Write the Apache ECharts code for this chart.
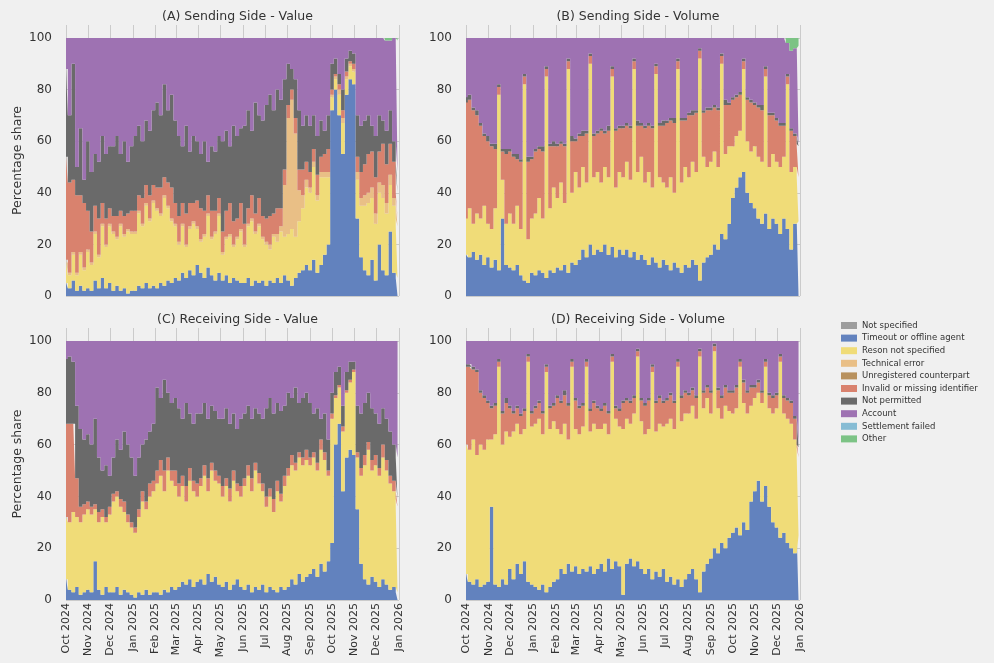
<!DOCTYPE html>
<html>
<head>
<meta charset="utf-8">
<script src="https://cdn.jsdelivr.net/npm/echarts@6/dist/echarts.min.js"></script>
<style>
html, body { margin: 0; padding: 0; background: #f0f0f0; }
#container { width: 994px; height: 663px; }
</style>
</head>
<body>
<div id="container"></div>
<script>
let chart = echarts.init(document.getElementById('container'));
const fontFamily = 'DejaVu Sans';

// one sample every 5 days from 1 Oct 2024 (92 samples, last is 30 Dec 2025)
const startDay = [2024, 9, 1];
const stepDays = 5;
const monthNames = ['Jan', 'Feb', 'Mar', 'Apr', 'May', 'Jun', 'Jul', 'Aug', 'Sep', 'Oct', 'Nov', 'Dec'];
const tickDates = ['2024-10-01', '2024-11-01', '2024-12-01', '2025-01-01', '2025-02-01', '2025-03-01',
    '2025-04-01', '2025-05-01', '2025-06-01', '2025-07-01', '2025-08-01', '2025-09-01', '2025-10-01',
    '2025-11-01', '2025-12-01', '2026-01-01'];
const yTicks = [0, 20, 40, 60, 80, 100];
const legendNames = ['Not specified', 'Timeout or offline agent', 'Reson not specified', 'Technical error',
    'Unregistered counterpart', 'Invalid or missing identifier', 'Not permitted', 'Account',
    'Settlement failed', 'Other'];
const colors = {
    'Not specified': '#9d9d9d',
    'Timeout or offline agent': '#6282be',
    'Reson not specified': '#f0dc78',
    'Technical error': '#e9bf86',
    'Unregistered counterpart': '#b8915e',
    'Invalid or missing identifier': '#d9826e',
    'Not permitted': '#6a6a6a',
    'Account': '#9e72b2',
    'Settlement failed': '#86bcd4',
    'Other': '#7cc385'
};

// (A) Sending side - value
const timeoutA = [
5,3,6,2,4,2,3, 2,6,3,7,3,5, 2,4,2,3,1,2, 2,4,3,5,3,4, 3,5,4,6,5,7, 6,9,7,10,8,12,
9,7,11,8,6,9, 6,8,5,7,6,5, 5,7,4,6,5,6, 4,6,5,7,5,8, 6,4,7,9,10,12, 10,14,9,12,16,20,
72,80,70,55,78,84, 82,30,15,10,8,14, 6,20,10,8,25,9,7];
const reasonA = [
8,5,10,6,12,8,14, 10,18,12,20,16,22, 22,18,25,20,24,22, 22,28,24,30,26,32, 30,26,34,28,24,20, 14,18,12,16,20,14,
12,16,20,14,18,22, 10,14,18,12,16,20, 14,20,25,18,22,16, 16,12,18,14,20,15, 18,22,16,20,24,30, 30,36,28,34,30,26,
5,4,8,12,6,5, 5,15,20,25,28,24, 22,20,28,24,18,26,20];
const techA = [
1,1,1,1,1,1,1, 1,1,1,1,1,1, 1,1,1,1,1,1, 1,1,1,1,1,1, 1,1,1,1,1,1, 1,1,1,1,1,1,
1,1,1,1,1,1, 1,1,1,1,1,1, 1,1,1,1,1,1, 1,2,1,3,2,20, 45,50,40,12,5,3, 2,2,2,2,2,2,
1,1,2,2,1,1, 1,3,3,4,4,4, 4,4,5,4,4,3,3];
const invalidA = [
40,35,28,30,22,25,15, 12,10,14,8,10,6, 6,8,5,7,6,8, 8,6,10,7,9,6, 8,10,7,9,12,8, 10,8,12,9,7,10,
12,9,7,10,8,6, 8,10,12,9,7,10, 8,6,9,7,10,8, 9,11,8,10,7,6, 5,4,6,8,10,7, 6,5,8,6,7,9,
2,1,2,3,2,1, 2,6,10,12,15,14, 14,12,16,15,12,14,10];
const notPermittedA = [
34,26,45,11,26,9,27, 23,20,22,26,25,24, 27,31,22,29,20,25, 29,27,22,25,25,29, 33,28,36,28,36,32, 31,22,34,20,26,23,
21,27,13,25,23,24, 35,31,22,37,32,29, 38,38,25,43,32,37, 44,47,40,46,42,35, 16,8,15,23,17,18, 18,13,15,14,9,13,
10,6,4,8,5,4, 4,16,18,17,15,10, 16,14,9,13,13,8,8];
const otherA = [
0,0,0,0,0,0,0, 0,0,0,0,0,0, 0,0,0,0,0,0, 0,0,0,0,0,0, 0,0,0,0,0,0, 0,0,0,0,0,0,
0,0,0,0,0,0, 0,0,0,0,0,0, 0,0,0,0,0,0, 0,0,0,0,0,0, 0,0,0,0,0,0, 0,0,0,0,0,0,
0,0,0,0,0,0, 0,0,0,0,0,0, 0,0,0,1,1,0,1];

// (B) Sending side - volume
const timeoutB = [
16,15,17,14,16,12,15, 11,14,10,30,12,11, 10,12,8,6,5,9, 8,10,9,7,10,9, 11,10,12,9,13,12, 14,18,15,20,16,18,
17,20,16,19,15,18, 16,18,15,17,14,16, 14,12,15,13,11,14, 12,10,13,11,9,12, 11,14,12,6,13,15, 16,20,18,24,22,28,
38,42,46,48,40,36, 34,30,28,32,26,30, 28,24,30,26,18,28,29];
const reasonB = [
14,19,11,18,14,23,13, 15,20,68,15,16,21, 18,23,18,76,17,21, 24,28,21,78,24,33, 27,34,24,79,27,36, 28,32,29,70,30,30,
27,30,30,66,27,30, 30,34,30,71,34,38, 30,36,27,73,35,30, 30,36,27,77,35,38, 35,38,36,86,41,35, 36,36,32,66,33,30,
20,20,18,40,20,20, 24,24,24,53,24,25, 24,26,24,56,30,22,17];
const invalidB = [
45,42,44,38,36,27,32, 32,23,3,11,27,24, 26,18,26,3,30,23, 24,19,26,3,24,16, 20,15,22,3,20,12, 20,12,19,3,16,15,
20,13,18,3,22,17, 19,14,20,3,18,12, 21,18,23,3,20,22, 25,22,27,3,24,18, 24,18,23,3,17,22, 20,17,22,3,19,16,
18,15,14,3,16,19, 16,19,20,3,20,15, 16,16,12,3,16,12,12];
const notPermittedB = [
2,2,1,2,1,1,2, 1,2,1,1,2,1, 1,2,1,1,2,1, 1,1,2,1,1,2, 1,1,1,1,2,1, 1,2,1,1,1,1,
1,1,2,1,1,1, 1,1,1,1,2,1, 1,1,1,1,1,2, 1,1,2,1,1,1, 1,2,1,1,1,1, 1,1,1,1,2,1,
1,1,1,1,1,1, 1,1,2,1,1,1, 1,1,1,1,1,1,1];
const otherB = [
0,0,0,0,0,0,0, 0,0,0,0,0,0, 0,0,0,0,0,0, 0,0,0,0,0,0, 0,0,0,0,0,0, 0,0,0,0,0,0,
0,0,0,0,0,0, 0,0,0,0,0,0, 0,0,0,0,0,0, 0,0,0,0,0,0, 0,0,0,0,0,0, 0,0,0,0,0,0,
0,0,0,0,0,0, 0,0,0,0,0,0, 0,0,0,2,5,4,3];

// (C) Receiving side - value
const timeoutC = [
8,4,3,5,2,3,4, 3,15,4,2,5,3, 3,5,2,4,3,2, 1,3,2,4,2,3, 3,2,4,3,5,4, 5,7,6,8,5,7,
8,6,10,7,9,6, 5,7,4,6,8,5, 4,6,3,5,4,6, 3,5,4,3,5,4, 5,8,6,10,7,9, 10,12,9,14,11,15,
22,60,68,42,55,58, 56,35,14,8,6,9, 7,5,8,6,4,5,3];
const reasonC = [
24,26,31,27,28,30,31, 30,20,26,30,25,30, 35,35,34,30,27,26, 25,29,36,31,38,39, 42,46,38,47,41,40, 35,37,32,38,37,33,
36,42,32,43,37,39, 35,37,34,40,34,35, 40,42,39,45,41,36, 33,35,30,39,33,40, 43,44,44,45,45,45, 42,43,41,44,43,33,
48,18,14,23,25,26, 32,20,34,44,52,41, 45,43,47,44,41,37,33];
const invalidC = [
36,38,34,15,6,4,3, 3,2,4,3,2,3, 3,2,3,4,3,2, 2,3,4,3,5,4, 5,6,8,5,4,6, 5,4,6,5,4,5,
3,4,5,3,4,3, 4,3,5,4,3,4, 3,4,5,3,4,3, 4,3,5,4,3,4, 3,4,3,2,3,4, 3,2,3,4,3,2,
2,1,1,2,1,1, 1,2,3,4,3,4, 4,3,5,4,3,4,3];
const notPermittedC = [
25,26,24,28,30,25,26, 24,33,21,15,20,12, 14,20,19,27,27,25, 20,20,18,24,20,22, 32,24,35,25,26,28, 29,22,32,21,22,27,
25,24,23,22,23,22, 26,27,25,22,21,26, 25,23,23,21,23,25, 34,35,33,30,32,27, 29,22,29,19,23,22, 21,15,21,8,15,12,
8,9,7,8,7,7, 3,18,21,20,19,20, 16,17,14,16,17,14,16];

// (D) Receiving side - volume
const timeoutD = [
10,7,6,8,5,6,7, 36,6,5,8,6,12, 8,14,10,15,7,6, 5,4,6,3,5,7, 8,12,10,14,11,13, 10,12,11,13,10,12,
14,11,16,12,15,13, 2,14,16,13,15,12, 10,12,8,11,9,12, 7,9,6,8,5,8, 10,12,8,3,11,14, 16,20,18,22,20,24,
26,28,25,30,27,38, 42,46,38,44,36,30, 28,24,26,22,20,18,25];
const reasonD = [
50,51,56,48,55,52,55, 26,58,85,52,59,51, 57,54,54,51,85,61, 63,66,58,85,61,62, 58,52,58,48,79,53, 54,55,79,52,58,54,
52,57,48,80,55,54, 64,56,52,59,79,57, 54,54,80,54,59,55, 61,61,60,82,64,64, 62,63,62,91,63,64, 56,76,56,48,55,49,
46,46,65,46,45,37, 36,34,38,46,38,42, 46,68,46,48,48,44,30];
const invalidD = [
30,32,27,32,20,20,14, 12,11,2,12,11,11, 7,6,7,7,2,5, 6,6,8,2,8,6, 12,12,11,13,2,11, 10,8,2,8,8,8,
7,7,8,2,4,6, 10,7,8,6,2,8, 11,11,2,11,10,9, 9,9,10,2,9,8, 7,6,8,2,6,4, 8,2,7,8,7,7,
8,8,2,8,8,7, 4,4,4,2,5,6, 5,2,6,7,8,8,4];
const notPermittedD = [
1,1,1,1,1,1,1, 1,1,1,1,2,1, 1,1,1,1,1,1, 1,1,1,1,1,1, 1,1,2,1,1,1, 1,1,1,1,1,1,
1,1,1,1,1,1, 1,1,1,1,1,1, 1,1,1,1,1,1, 1,1,1,1,1,1, 1,1,1,1,1,1, 1,1,1,1,1,1,
1,1,1,1,1,1, 1,1,1,1,1,1, 1,1,1,1,1,1,1];

// categories that never show up at this scale, kept for the legend
const notSpecified = [];
const unregistered = [];
const settlementFailed = [];

function toTime(s) {
    let p = s.split('-').map(Number);
    return new Date(p[0], p[1] - 1, p[2]).getTime();
}
let dates = [];
for (let i = 0; i < timeoutA.length; i++) {
    dates.push(new Date(startDay[0], startDay[1], startDay[2] + i * stepDays).getTime());
}
const tickTimes = tickDates.map(toTime);
const axisStart = tickTimes[0];
const axisEnd = tickTimes[tickTimes.length - 1];

let panels = [
    {title: '(A) Sending Side - Value', left: 66, top: 25, width: 333, height: 271, labels: false, yName: true,
        parts: [['Timeout or offline agent', timeoutA], ['Reson not specified', reasonA], ['Technical error', techA],
            ['Invalid or missing identifier', invalidA], ['Not permitted', notPermittedA]],
        other: otherA},
    {title: '(B) Sending Side - Volume', left: 466, top: 25, width: 334, height: 271, labels: false, yName: false,
        parts: [['Timeout or offline agent', timeoutB], ['Reson not specified', reasonB],
            ['Invalid or missing identifier', invalidB], ['Not permitted', notPermittedB]],
        other: otherB},
    {title: '(C) Receiving Side - Value', left: 66, top: 328, width: 333, height: 272, labels: true, yName: true,
        parts: [['Timeout or offline agent', timeoutC], ['Reson not specified', reasonC],
            ['Invalid or missing identifier', invalidC], ['Not permitted', notPermittedC]],
        other: null},
    {title: '(D) Receiving Side - Volume', left: 466, top: 328, width: 334, height: 272, labels: true, yName: false,
        parts: [['Timeout or offline agent', timeoutD], ['Reson not specified', reasonD],
            ['Invalid or missing identifier', invalidD], ['Not permitted', notPermittedD]],
        other: null},
];

// value first so that the stack runs on the share dimension, date second on x
function areaSeries(name, values, index) {
    return {
        name: name,
        type: 'line',
        xAxisIndex: index,
        yAxisIndex: index,
        stack: 'share' + index,
        step: 'middle',
        symbol: 'none',
        silent: true,
        encode: {x: 1, y: 0},
        lineStyle: {width: 0},
        itemStyle: {color: colors[name]},
        areaStyle: {color: colors[name], opacity: 1},
        data: values.map((v, i) => [v, dates[i]]),
    };
}

const gridColor = '#cbcbcb';
let grids = [], xAxes = [], yAxes = [], titles = [], series = [];
panels.forEach((p, index) => {
    grids.push({left: p.left, top: p.top, width: p.width, height: p.height});
    titles.push({
        text: p.title, left: p.left + p.width / 2, top: p.top - 20, textAlign: 'center',
        textStyle: {fontSize: 12.5, fontWeight: 'normal', color: '#333', fontFamily: fontFamily},
    });
    // grid lines are drawn as full-length inside ticks so they sit on the month starts
    xAxes.push({
        type: 'value', gridIndex: index, min: axisStart, max: axisEnd,
        axisLine: {show: false},
        axisTick: {show: true, customValues: tickTimes, inside: true, length: p.height,
            lineStyle: {color: gridColor, width: 1}},
        splitLine: {show: false},
        axisLabel: {
            show: p.labels, customValues: tickTimes, rotate: 90, fontSize: 11, color: '#333', margin: 3,
            fontFamily: fontFamily, hideOverlap: false,
            formatter: value => {
                let d = new Date(value);
                return monthNames[d.getMonth()] + ' ' + d.getFullYear();
            },
        },
    });
    yAxes.push({
        type: 'value', gridIndex: index, min: 0, max: 105,
        name: p.yName ? 'Percentage share' : '', nameLocation: 'middle', nameGap: 42,
        nameTextStyle: {fontSize: 12.5, color: '#333', fontFamily: fontFamily},
        axisLine: {show: false},
        axisTick: {show: true, customValues: yTicks, inside: true, length: p.width,
            lineStyle: {color: gridColor, width: 1}},
        splitLine: {show: false},
        axisLabel: {customValues: yTicks, fontSize: 12, color: '#333', margin: 14, fontFamily: fontFamily},
    });

    // account fills whatever the other reasons leave up to 100 %
    let account = dates.map((d, i) => {
        let used = 0;
        p.parts.forEach(part => { used += part[1][i]; });
        if (p.other) used += p.other[i];
        return 100 - used;
    });
    p.parts.forEach(part => series.push(areaSeries(part[0], part[1], index)));
    series.push(areaSeries('Account', account, index));
    if (p.other) series.push(areaSeries('Other', p.other, index));
});

[['Not specified', notSpecified], ['Unregistered counterpart', unregistered], ['Settlement failed', settlementFailed]]
    .forEach(item => {
        series.push({
            name: item[0], type: 'line', xAxisIndex: 0, yAxisIndex: 0, symbol: 'none',
            itemStyle: {color: colors[item[0]]}, lineStyle: {width: 0}, data: item[1],
        });
    });

let option = {
    backgroundColor: '#f0f0f0',
    animation: false,
    textStyle: {fontFamily: fontFamily},
    title: titles,
    grid: grids,
    xAxis: xAxes,
    yAxis: yAxes,
    legend: {
        orient: 'vertical', left: 836, top: 316, icon: 'rect',
        itemWidth: 16, itemHeight: 7, itemGap: 3.6,
        textStyle: {fontSize: 8.5, color: '#333', fontFamily: fontFamily},
        data: legendNames,
    },
    series: series,
};
chart.setOption(option);
</script>
</body>
</html>
